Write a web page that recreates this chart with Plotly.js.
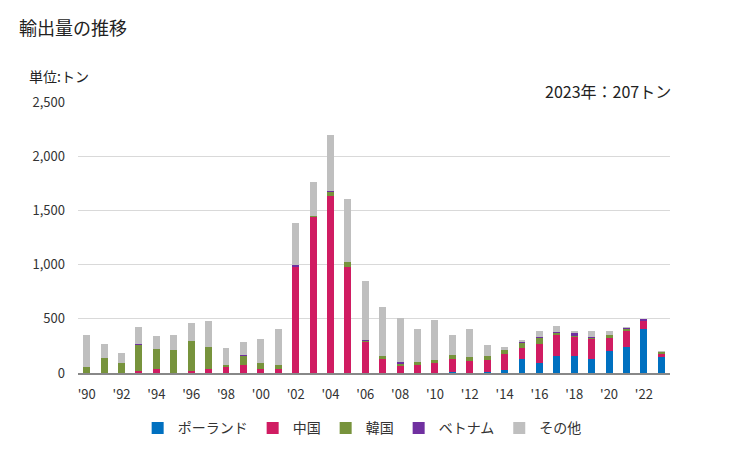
<!DOCTYPE html>
<html><head><meta charset="utf-8">
<script src="https://cdn.plot.ly/plotly-3.0.1.min.js"></script>
<style>html,body{margin:0;padding:0;background:#fff;}#chart{width:729px;height:450px;}</style>
</head><body><div id="chart"></div>
<script>
const years = [1990,1991,1992,1993,1994,1995,1996,1997,1998,1999,2000,2001,2002,2003,2004,2005,2006,2007,2008,2009,2010,2011,2012,2013,2014,2015,2016,2017,2018,2019,2020,2021,2022,2023];
const seriesNames = ["ポーランド","中国","韓国","ベトナム","その他"];
const poland  = [0,0,0,0,0,0,0,0,0,0,0,0,0,0,0,0,0,0,0,0,0,12,0,12,31,130,96,160,160,133,207,244,404,145];
const china   = [0,0,0,15,40,0,15,40,53,77,40,40,978,1438,1632,978,290,133,68,77,96,120,114,111,148,105,167,194,176,185,120,139,74,34];
const korea   = [60,142,96,241,185,216,284,204,25,83,56,37,0,9,37,43,9,28,19,28,28,37,37,37,37,46,56,19,9,9,19,19,0,19];
const vietnam = [0,0,0,9,0,0,0,0,0,9,0,0,15,0,9,0,9,0,19,0,0,0,0,0,0,9,9,9,28,9,9,9,19,0];
const other   = [295,130,92,155,112,130,158,232,157,121,222,325,390,315,519,584,538,444,406,305,361,186,259,102,28,19,55,56,19,47,28,9,0,9];
const tickYears = [1990,1992,1994,1996,1998,2000,2002,2004,2006,2008,2010,2012,2014,2016,2018,2020,2022];
const tickLabels = ["'90","'92","'94","'96","'98","'00","'02","'04","'06","'08","'10","'12","'14","'16","'18","'20","'22"];
const colors = ["#0070C0","#D01C62","#77933C","#7030A0","#BFBFBF"];
const values = [poland, china, korea, vietnam, other];

const FONT = '"Noto Sans CJK JP", "Noto Sans", sans-serif';
const traces = values.map((v,i)=>({
  type:'bar', x: years, y: v, name: seriesNames[i],
  marker:{color: colors[i], line:{width:0}},
  width: 0.4, hoverinfo:'skip'
}));

const layout = {
  width:729, height:450, barmode:'stack',
  margin:{l:78, r:59, t:102, b:77, autoexpand:false},
  paper_bgcolor:'#fff', plot_bgcolor:'#fff',
  font:{family:FONT, size:13, color:'#333'},
  showlegend:true,
  legend:{orientation:'h', x:0.48, xanchor:'center', y:-0.145, yanchor:'top', font:{size:14, color:'#333'}, traceorder:'normal', itemwidth:30, tracegroupgap:0},
  xaxis:{range:[1989.5,2023.5], tickvals:tickYears, ticktext:tickLabels, showgrid:false, showline:true, linecolor:'#888', linewidth:2, ticks:'', ticklabelstandoff:8, automargin:false, tickfont:{size:13,color:'#333'}, fixedrange:true},
  yaxis:{range:[0,2500], dtick:500, tickformat:',d', showgrid:true, gridcolor:'#d9d9d9', gridwidth:1, zeroline:false, showline:false, ticks:'', ticklabelstandoff:12, automargin:false, tickfont:{size:13,color:'#333'}, fixedrange:true},
  annotations:[
    {text:'輸出量の推移', xref:'paper', yref:'paper', x:(17-78)/592, y:1+(102-27)/271, xanchor:'left', yanchor:'middle', showarrow:false, font:{size:18, color:'#222', family:FONT}},
    {text:'単位:トン', xref:'paper', yref:'paper', x:(27-78)/592, y:1+(102-76)/271, xanchor:'left', yanchor:'middle', showarrow:false, font:{size:14, color:'#222', family:FONT}},
    {text:'2023年：207トン', xref:'paper', yref:'paper', x:(673-78)/592, y:1+(102-91)/271, xanchor:'right', yanchor:'middle', showarrow:false, font:{size:16, color:'#222', family:FONT}}
  ]
};
Plotly.newPlot('chart', traces, layout, {displayModeBar:false, staticPlot:true});
</script>
</body></html>
